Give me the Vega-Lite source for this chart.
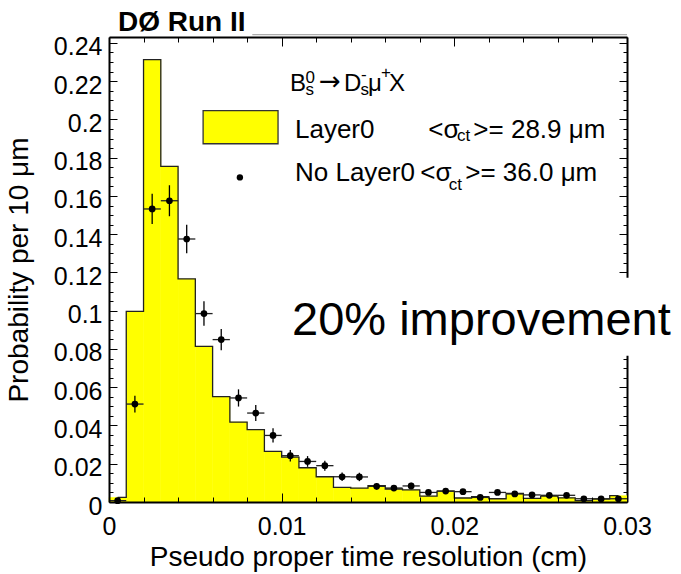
{
  "$schema": "https://vega.github.io/schema/vega-lite/v6.json",
  "width": 518,
  "height": 465,
  "autosize": {"type": "none"},
  "padding": {"left": 109, "top": 37, "right": 54, "bottom": 72},
  "background": "white",
  "config": {"view": {"stroke": null}, "font": "Liberation Sans"},
  "datasets": {
    "h": [
      {"lo": 0.000, "hi": 0.001, "c": 0.0005, "layer0": 0.0024, "nl0": 0.0007, "elo": 0.0001, "ehi": 0.0013},
      {"lo": 0.001, "hi": 0.002, "c": 0.0015, "layer0": 0.0997, "nl0": 0.0512, "elo": 0.0468, "ehi": 0.0556},
      {"lo": 0.002, "hi": 0.003, "c": 0.0025, "layer0": 0.2313, "nl0": 0.1532, "elo": 0.1453, "ehi": 0.1611},
      {"lo": 0.003, "hi": 0.004, "c": 0.0035, "layer0": 0.1755, "nl0": 0.1575, "elo": 0.1494, "ehi": 0.1656},
      {"lo": 0.004, "hi": 0.005, "c": 0.0045, "layer0": 0.1166, "nl0": 0.1375, "elo": 0.1301, "ehi": 0.1449},
      {"lo": 0.005, "hi": 0.006, "c": 0.0055, "layer0": 0.0814, "nl0": 0.0985, "elo": 0.0921, "ehi": 0.1049},
      {"lo": 0.006, "hi": 0.007, "c": 0.0065, "layer0": 0.0551, "nl0": 0.0849, "elo": 0.0793, "ehi": 0.0905},
      {"lo": 0.007, "hi": 0.008, "c": 0.0075, "layer0": 0.0418, "nl0": 0.0544, "elo": 0.0499, "ehi": 0.0589},
      {"lo": 0.008, "hi": 0.009, "c": 0.0085, "layer0": 0.0378, "nl0": 0.0465, "elo": 0.0423, "ehi": 0.0507},
      {"lo": 0.009, "hi": 0.010, "c": 0.0095, "layer0": 0.0265, "nl0": 0.0348, "elo": 0.0311, "ehi": 0.0385},
      {"lo": 0.010, "hi": 0.011, "c": 0.0105, "layer0": 0.0235, "nl0": 0.0242, "elo": 0.0212, "ehi": 0.0272},
      {"lo": 0.011, "hi": 0.012, "c": 0.0115, "layer0": 0.0179, "nl0": 0.0212, "elo": 0.0184, "ehi": 0.0240},
      {"lo": 0.012, "hi": 0.013, "c": 0.0125, "layer0": 0.0132, "nl0": 0.0190, "elo": 0.0164, "ehi": 0.0216},
      {"lo": 0.013, "hi": 0.014, "c": 0.0135, "layer0": 0.0076, "nl0": 0.0132, "elo": 0.0110, "ehi": 0.0154},
      {"lo": 0.014, "hi": 0.015, "c": 0.0145, "layer0": 0.0073, "nl0": 0.0131, "elo": 0.0109, "ehi": 0.0153},
      {"lo": 0.015, "hi": 0.016, "c": 0.0155, "layer0": 0.0085, "nl0": 0.0082, "elo": 0.0065, "ehi": 0.0099},
      {"lo": 0.016, "hi": 0.017, "c": 0.0165, "layer0": 0.0068, "nl0": 0.0073, "elo": 0.0057, "ehi": 0.0089},
      {"lo": 0.017, "hi": 0.018, "c": 0.0175, "layer0": 0.0063, "nl0": 0.0084, "elo": 0.0067, "ehi": 0.0101},
      {"lo": 0.018, "hi": 0.019, "c": 0.0185, "layer0": 0.0031, "nl0": 0.0050, "elo": 0.0037, "ehi": 0.0063},
      {"lo": 0.019, "hi": 0.020, "c": 0.0195, "layer0": 0.0057, "nl0": 0.0057, "elo": 0.0043, "ehi": 0.0071},
      {"lo": 0.020, "hi": 0.021, "c": 0.0205, "layer0": 0.0021, "nl0": 0.0054, "elo": 0.0040, "ehi": 0.0068},
      {"lo": 0.021, "hi": 0.022, "c": 0.0215, "layer0": 0.0028, "nl0": 0.0024, "elo": 0.0015, "ehi": 0.0033},
      {"lo": 0.022, "hi": 0.023, "c": 0.0225, "layer0": 0.0017, "nl0": 0.0050, "elo": 0.0037, "ehi": 0.0063},
      {"lo": 0.023, "hi": 0.024, "c": 0.0235, "layer0": 0.0045, "nl0": 0.0042, "elo": 0.0030, "ehi": 0.0054},
      {"lo": 0.024, "hi": 0.025, "c": 0.0245, "layer0": 0.0019, "nl0": 0.0037, "elo": 0.0026, "ehi": 0.0048},
      {"lo": 0.025, "hi": 0.026, "c": 0.0255, "layer0": 0.0031, "nl0": 0.0035, "elo": 0.0024, "ehi": 0.0046},
      {"lo": 0.026, "hi": 0.027, "c": 0.0265, "layer0": 0.0022, "nl0": 0.0035, "elo": 0.0024, "ehi": 0.0046},
      {"lo": 0.027, "hi": 0.028, "c": 0.0275, "layer0": 0.0007, "nl0": 0.0017, "elo": 0.0009, "ehi": 0.0025},
      {"lo": 0.028, "hi": 0.029, "c": 0.0285, "layer0": 0.0016, "nl0": 0.0016, "elo": 0.0008, "ehi": 0.0024},
      {"lo": 0.029, "hi": 0.030, "c": 0.0295, "layer0": 0.0033, "nl0": 0.0017, "elo": 0.0009, "ehi": 0.0025}
    ]
  },
  "resolve": {"axis": {"x": "independent", "y": "independent"}},
  "layer": [
    {
      "data": {"name": "h"},
      "mark": {"type": "rect", "fill": "#ffff00", "stroke": "#ffff00", "strokeWidth": 0.5},
      "encoding": {
        "x": {"field": "lo", "type": "quantitative", "scale": {"domain": [0, 0.03], "nice": false, "zero": false},
          "axis": {"orient": "bottom", "values": [0, 0.002, 0.004, 0.006, 0.008, 0.01, 0.012, 0.014, 0.016, 0.018, 0.02, 0.022, 0.024, 0.026, 0.028, 0.03],
            "format": ".3~f", "labelExpr": "round(datum.value*1000) % 10 == 0 ? datum.label : ''",
            "tickSize": {"condition": {"test": "round(datum.value*1000) % 10 == 0", "value": -9}, "value": -5},
            "tickColor": "black", "tickWidth": 1, "domainColor": "black", "domainWidth": 2, "grid": false,
            "labelFont": "Liberation Sans", "labelFontSize": 25, "labelColor": "black", "labelPadding": 21, "labelFlush": false, "labelOverlap": false,
            "title": "Pseudo proper time resolution (cm)", "titleFont": "Liberation Sans", "titleFontSize": 28, "titleFontWeight": "normal", "titleColor": "black", "titlePadding": 0, "zindex": 1}},
        "x2": {"field": "hi"},
        "y": {"field": "layer0", "type": "quantitative", "scale": {"domain": [0, 0.2431], "nice": false},
          "axis": {"orient": "left", "values": [0, 0.005, 0.01, 0.015, 0.02, 0.025, 0.03, 0.035, 0.04, 0.045, 0.05, 0.055, 0.06, 0.065, 0.07, 0.075, 0.08, 0.085, 0.09, 0.095, 0.1, 0.105, 0.11, 0.115, 0.12, 0.125, 0.13, 0.135, 0.14, 0.145, 0.15, 0.155, 0.16, 0.165, 0.17, 0.175, 0.18, 0.185, 0.19, 0.195, 0.2, 0.205, 0.21, 0.215, 0.22, 0.225, 0.23, 0.235, 0.24],
            "format": ".2~f", "labelExpr": "round(datum.value*1000) % 20 == 0 ? datum.label : ''",
            "tickSize": {"condition": {"test": "round(datum.value*1000) % 20 == 0", "value": -8}, "value": -4},
            "tickColor": "black", "tickWidth": 1, "domainColor": "black", "domainWidth": 2, "grid": false,
            "labelFont": "Liberation Sans", "labelFontSize": 25, "labelColor": "black", "labelPadding": 15, "labelOffset": 4, "labelOverlap": false, "labelFlush": false,
            "title": "Probability per 10 μm", "titleFont": "Liberation Sans", "titleFontSize": 28, "titleFontWeight": "normal", "titleColor": "black", "titlePadding": 20, "zindex": 1}},
        "y2": {"datum": 0}
      }
    },
    {
      "data": {"name": "h"},
      "mark": {"type": "line", "interpolate": "step", "color": "#222222", "strokeWidth": 1.3},
      "encoding": {
        "x": {"field": "c", "type": "quantitative",
          "axis": {"orient": "top", "values": [0, 0.002, 0.004, 0.006, 0.008, 0.01, 0.012, 0.014, 0.016, 0.018, 0.02, 0.022, 0.024, 0.026, 0.028, 0.03],
            "labels": false, "title": null, "grid": false,
            "tickSize": {"condition": {"test": "round(datum.value*1000) % 10 == 0", "value": -9}, "value": -5},
            "tickColor": "black", "tickWidth": 1, "domainColor": "black", "domainWidth": 2, "zindex": 1}},
        "y": {"field": "layer0", "type": "quantitative",
          "axis": {"orient": "right", "values": [0, 0.005, 0.01, 0.015, 0.02, 0.025, 0.03, 0.035, 0.04, 0.045, 0.05, 0.055, 0.06, 0.065, 0.07, 0.075, 0.08, 0.085, 0.09, 0.095, 0.1, 0.105, 0.11, 0.115, 0.12, 0.125, 0.13, 0.135, 0.14, 0.145, 0.15, 0.155, 0.16, 0.165, 0.17, 0.175, 0.18, 0.185, 0.19, 0.195, 0.2, 0.205, 0.21, 0.215, 0.22, 0.225, 0.23, 0.235, 0.24],
            "labels": false, "title": null, "grid": false,
            "tickSize": {"condition": {"test": "round(datum.value*1000) % 20 == 0", "value": -8}, "value": -4},
            "tickColor": "black", "tickWidth": 1, "domainColor": "black", "domainWidth": 2, "zindex": 0}}
      }
    },
    {
      "data": {"values": [{}]},
      "mark": {"type": "rect", "fill": "white", "stroke": null},
      "encoding": {
        "x": {"datum": 0.0102, "type": "quantitative", "axis": null},
        "x2": {"datum": 0.0326},
        "y": {"datum": 0.0765, "type": "quantitative", "axis": null},
        "y2": {"datum": 0.1173}
      }
    },
    {
      "data": {"values": [{}]},
      "mark": {"type": "rule", "color": "#999999", "strokeWidth": 1},
      "encoding": {
        "x": {"datum": 0.0083, "type": "quantitative", "axis": null},
        "x2": {"datum": 0.03},
        "y": {"datum": 0.2443, "type": "quantitative", "axis": null}
      }
    },
    {
      "data": {"name": "h"},
      "mark": {"type": "rule", "color": "black", "strokeWidth": 1.3},
      "encoding": {
        "x": {"field": "c", "type": "quantitative", "axis": null},
        "y": {"field": "elo", "type": "quantitative", "axis": null},
        "y2": {"field": "ehi"}
      }
    },
    {
      "data": {"name": "h"},
      "mark": {"type": "rule", "color": "#222222", "strokeWidth": 1.3},
      "encoding": {
        "x": {"field": "lo", "type": "quantitative", "axis": null},
        "x2": {"field": "hi"},
        "y": {"field": "nl0", "type": "quantitative", "axis": null}
      }
    },
    {
      "data": {"name": "h"},
      "mark": {"type": "circle", "color": "black", "size": 45, "opacity": 1},
      "encoding": {
        "x": {"field": "c", "type": "quantitative", "axis": null},
        "y": {"field": "nl0", "type": "quantitative", "axis": null}
      }
    },
    {
      "data": {"values": [{}]},
      "mark": {"type": "rect", "fill": "#ffff00", "stroke": "#333333", "strokeWidth": 1.3},
      "encoding": {
        "x": {"datum": 0.00545, "type": "quantitative", "axis": null},
        "x2": {"datum": 0.00979},
        "y": {"datum": 0.1873, "type": "quantitative", "axis": null},
        "y2": {"datum": 0.2046}
      }
    },
    {
      "data": {"values": [{}]},
      "mark": {"type": "circle", "color": "black", "size": 40, "opacity": 1},
      "encoding": {
        "x": {"datum": 0.00758, "type": "quantitative", "axis": null},
        "y": {"datum": 0.1697, "type": "quantitative", "axis": null}
      }
    },
    {
      "data": {"values": [
        {"x": 0.01077, "y": 0.1903, "t": "Layer0"},
        {"x": 0.01849, "y": 0.1903, "t": "<σ"},
        {"x": 0.0211, "y": 0.1903, "t": ">= 28.9 μm"},
        {"x": 0.01077, "y": 0.1676, "t": "No Layer0"},
        {"x": 0.01803, "y": 0.1676, "t": "<σ"},
        {"x": 0.02063, "y": 0.1676, "t": ">= 36.0 μm"}
      ]},
      "mark": {"type": "text", "align": "left", "baseline": "alphabetic", "fontSize": 26, "font": "Liberation Sans", "color": "black"},
      "encoding": {
        "x": {"field": "x", "type": "quantitative", "axis": null},
        "y": {"field": "y", "type": "quantitative", "axis": null},
        "text": {"field": "t"}
      }
    },
    {
      "data": {"values": [
        {"x": 0.01048, "y": 0.2147, "t": "B"},
        {"x": 0.01361, "y": 0.2147, "t": "D"},
        {"x": 0.0150, "y": 0.2147, "t": "μ"},
        {"x": 0.01622, "y": 0.2147, "t": "X"}
      ]},
      "mark": {"type": "text", "align": "left", "baseline": "alphabetic", "fontSize": 24, "font": "Liberation Sans", "color": "black"},
      "encoding": {
        "x": {"field": "x", "type": "quantitative", "axis": null},
        "y": {"field": "y", "type": "quantitative", "axis": null},
        "text": {"field": "t"}
      }
    },
    {
      "data": {"values": [{"x": 0.01216, "y": 0.2152, "t": "→"}]},
      "mark": {"type": "text", "align": "left", "baseline": "alphabetic", "fontSize": 26, "font": "DejaVu Sans", "color": "black"},
      "encoding": {
        "x": {"field": "x", "type": "quantitative", "axis": null},
        "y": {"field": "y", "type": "quantitative", "axis": null},
        "text": {"field": "t"}
      }
    },
    {
      "data": {"values": [
        {"x": 0.01138, "y": 0.2191, "t": "0"},
        {"x": 0.01138, "y": 0.2129, "t": "s"},
        {"x": 0.01459, "y": 0.2208, "t": "-"},
        {"x": 0.01457, "y": 0.2129, "t": "s"},
        {"x": 0.01575, "y": 0.2218, "t": "+"},
        {"x": 0.02015, "y": 0.1885, "t": "ct"},
        {"x": 0.01967, "y": 0.1633, "t": "ct"}
      ]},
      "mark": {"type": "text", "align": "left", "baseline": "alphabetic", "fontSize": 17, "font": "Liberation Sans", "color": "black"},
      "encoding": {
        "x": {"field": "x", "type": "quantitative", "axis": null},
        "y": {"field": "y", "type": "quantitative", "axis": null},
        "text": {"field": "t"}
      }
    },
    {
      "data": {"values": [{"t": "20% improvement"}]},
      "mark": {"type": "text", "align": "left", "baseline": "alphabetic", "fontSize": 47, "font": "Liberation Sans", "color": "black"},
      "encoding": {
        "x": {"datum": 0.0106, "type": "quantitative", "axis": null},
        "y": {"datum": 0.0875, "type": "quantitative", "axis": null},
        "text": {"field": "t"}
      }
    },
    {
      "data": {"values": [{"t": "DØ Run II"}]},
      "mark": {"type": "text", "align": "left", "baseline": "alphabetic", "fontSize": 28, "fontWeight": "bold", "font": "Liberation Sans", "color": "black"},
      "encoding": {
        "x": {"datum": 0.00052, "type": "quantitative", "axis": null},
        "y": {"datum": 0.2461, "type": "quantitative", "axis": null},
        "text": {"field": "t"}
      }
    }
  ]
}
